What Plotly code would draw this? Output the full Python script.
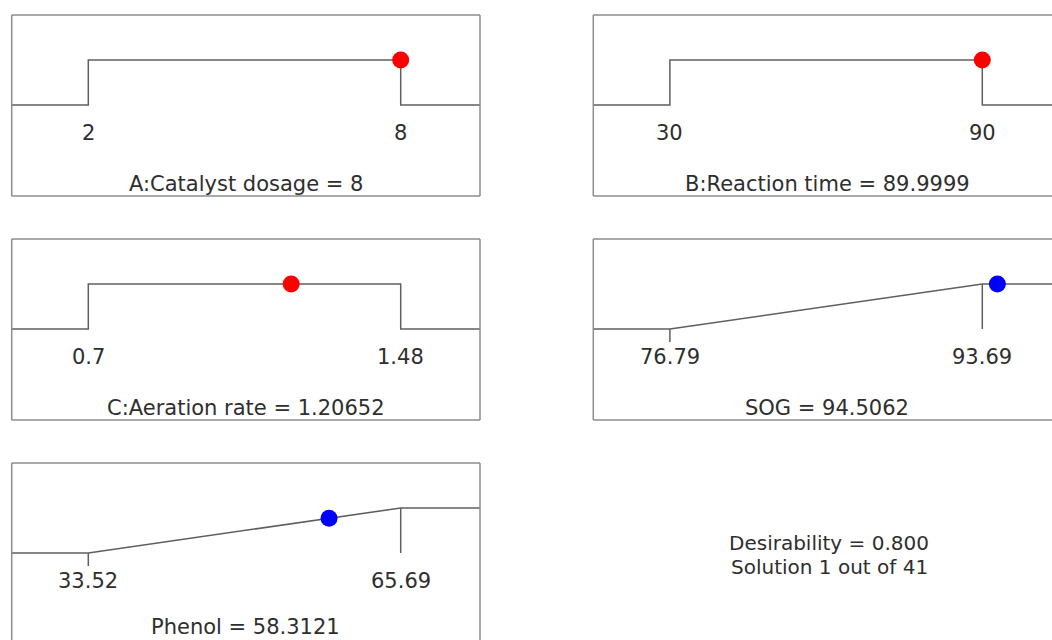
import plotly.graph_objects as go

# ---------------- data ----------------
names = ["A:Catalyst dosage", "B:Reaction time", "C:Aeration rate", "SOG", "Phenol"]
kinds = ["factor", "factor", "factor", "response", "response"]
lows = [2, 30, 0.7, 76.79, 33.52]
highs = [8, 90, 1.48, 93.69, 65.69]
low_labels = ["2", "30", "0.7", "76.79", "33.52"]
high_labels = ["8", "90", "1.48", "93.69", "65.69"]
values = [8, 89.9999, 1.20652, 94.5062, 58.3121]
value_labels = ["8", "89.9999", "1.20652", "94.5062", "58.3121"]
desirability_label = "0.800"
solution_label = "Solution 1 out of 41"

# ---------------- layout (pixels) ----------------
W, H = 1052, 640
col_left = [11.7, 593.3]
row_top = [15, 239, 463]
cells = [(0, 0), (1, 0), (0, 1), (1, 1), (0, 2)]
box_w, box_h = 468.3, 181
lo_off, unit_w = 76.6, 312.4
low_off, unit_h = 90, 45

LINE = "#5f5f5f"
BOX = "#8c8c8c"
TXT = "#2e2e2e"
FONT = "DejaVu Sans"

fig = go.Figure()
shapes = []
annotations = []

for i, (c, r) in enumerate(cells):
    lo, hi, v = lows[i], highs[i], values[i]
    span = hi - lo
    left = col_left[c]
    top = row_top[r]
    right = min(left + box_w, W)
    bottom = min(top + box_h, H)
    xmin = lo - lo_off / unit_w * span
    xmax = lo + (right - left - lo_off) / unit_w * span
    ymin = (top + low_off - bottom) / unit_h
    ymax = low_off / unit_h
    ax = "" if i == 0 else str(i + 1)
    xa, ya = "x" + ax, "y" + ax

    fig.layout["xaxis" + ax] = dict(domain=[left / W, right / W], range=[xmin, xmax],
                                     visible=False, fixedrange=True, anchor=ya)
    fig.layout["yaxis" + ax] = dict(domain=[1 - bottom / H, 1 - top / H], range=[ymin, ymax],
                                     visible=False, fixedrange=True, anchor=xa)

    if kinds[i] == "factor":
        lx = [xmin, lo, lo, hi, hi, xmax]
        ly = [0, 0, 1, 1, 0, 0]
        d = 1.0 if lo <= v <= hi else 0.0
        fig.add_trace(go.Scatter(x=lx, y=ly, mode="lines", xaxis=xa, yaxis=ya,
                                 line=dict(color=LINE, width=1.5), hoverinfo="skip"))
        mcolor = "#ff0000"
    else:
        lx = [xmin, lo, hi, xmax]
        ly = [0, 0, 1, 1]
        d = min(max((v - lo) / span, 0), 1)
        fig.add_trace(go.Scatter(x=lx, y=ly, mode="lines", xaxis=xa, yaxis=ya,
                                 line=dict(color=LINE, width=1.5), hoverinfo="skip"))
        fig.add_trace(go.Scatter(x=[hi, hi, None, lo, lo], y=[1, 0, None, 0, -0.29],
                                 mode="lines", xaxis=xa, yaxis=ya,
                                 line=dict(color=LINE, width=1.5), hoverinfo="skip"))
        mcolor = "#0000ff"

    fig.add_trace(go.Scatter(x=[v], y=[d], mode="markers", xaxis=xa, yaxis=ya,
                             marker=dict(color=mcolor, size=17, line=dict(width=0)),
                             cliponaxis=False))

    # tick labels
    for xv, lab in [(lo, low_labels[i]), (hi, high_labels[i])]:
        annotations.append(dict(x=xv, y=-28 / unit_h, xref=xa, yref=ya, text=lab,
                                showarrow=False, xanchor="center", yanchor="middle",
                                font=dict(family=FONT, size=21, color=TXT)))
    # title
    tx = lo + (box_w / 2 - lo_off) / unit_w * span
    title_px = min(top + 169, H - 13)
    annotations.append(dict(x=tx, y=(top + low_off - title_px) / unit_h, xref=xa, yref=ya,
                            text=f"{names[i]} = {value_labels[i]}", showarrow=False,
                            xanchor="center", yanchor="middle",
                            font=dict(family=FONT, size=21, color=TXT)))

    # box frame
    xl, xr = left / W, (left + box_w) / W
    yt, yb = 1 - top / H, 1 - (top + box_h) / H
    st = dict(type="line", xref="paper", yref="paper", line=dict(color=BOX, width=1.5))
    shapes.append(dict(st, x0=xl, x1=min(xr, 1.01), y0=yt, y1=yt))
    shapes.append(dict(st, x0=xl, x1=xl, y0=yt, y1=max(yb, -0.01)))
    if left + box_w <= W:
        shapes.append(dict(st, x0=xr, x1=xr, y0=yt, y1=max(yb, -0.01)))
    if top + box_h <= H:
        shapes.append(dict(st, x0=xl, x1=min(xr, 1.01), y0=yb, y1=yb))

annotations.append(dict(x=829 / W, y=1 - 543 / H, xref="paper", yref="paper",
                        text=f"Desirability = {desirability_label}", showarrow=False,
                        xanchor="center", yanchor="middle",
                        font=dict(family=FONT, size=20, color=TXT)))
annotations.append(dict(x=829 / W, y=1 - 567 / H, xref="paper", yref="paper",
                        text=solution_label, showarrow=False,
                        xanchor="center", yanchor="middle",
                        font=dict(family=FONT, size=20, color=TXT)))

fig.update_layout(width=W, height=H, margin=dict(l=0, r=0, t=0, b=0),
                  paper_bgcolor="white", plot_bgcolor="white", showlegend=False,
                  shapes=shapes, annotations=annotations)

fig.write_html("out.html", config={"displayModeBar": False})
